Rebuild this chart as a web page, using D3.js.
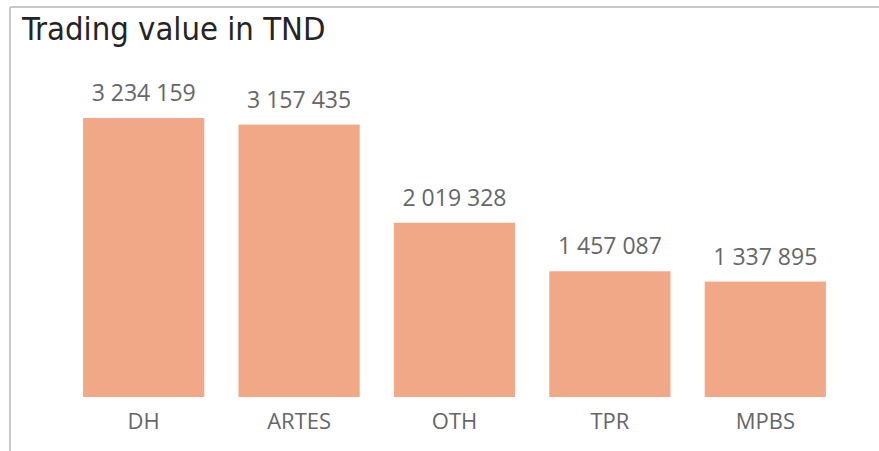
<!DOCTYPE html>
<html>
<head>
<meta charset="utf-8">
<script src="https://cdn.jsdelivr.net/npm/d3@7"></script>
<style>
  html, body { margin: 0; padding: 0; background: #fff; }
  svg { display: block; }
</style>
</head>
<body>
<svg id="chart" width="879" height="451"></svg>
<script>
const categories = ["DH", "ARTES", "OTH", "TPR", "MPBS"];
const values = [3234159, 3157435, 2019328, 1457087, 1337895];
const title = "Trading value in TND";

const W = 879, H = 451;
const svg = d3.select("#chart");

// frame
svg.append("line").attr("x1", 10).attr("x2", W).attr("y1", 7).attr("y2", 7)
  .attr("stroke", "#c8c8c8").attr("stroke-width", 2);
svg.append("line").attr("x1", 10).attr("x2", 10).attr("y1", 7).attr("y2", H)
  .attr("stroke", "#c8c8c8").attr("stroke-width", 2);

svg.append("text").attr("x", 22).attr("y", 40)
  .attr("font-family", "'DejaVu Sans Condensed', 'DejaVu Sans', sans-serif")
  .attr("font-size", 32.5).attr("fill", "#252423").text(title);

const x = d3.scaleBand().domain(categories).range([66, 843])
  .paddingInner(0.22).paddingOuter(0.11);
const y = d3.scaleLinear().domain([0, 3234159]).range([397, 118]);

const data = categories.map((c, i) => ({ c, v: values[i] }));

svg.append("g").selectAll("rect").data(data).join("rect")
  .attr("x", d => x(d.c)).attr("width", x.bandwidth())
  .attr("y", d => y(d.v)).attr("height", d => y(0) - y(d.v))
  .attr("fill", "#F0A886");

const fmt = v => d3.format(",")(v).replace(/,/g, " ");

svg.append("g").selectAll("text").data(data).join("text")
  .attr("x", d => x(d.c) + x.bandwidth() / 2)
  .attr("y", d => y(d.v) - 17)
  .attr("text-anchor", "middle")
  .attr("font-family", "'Open Sans', sans-serif")
  .attr("font-size", 23).attr("fill", "#666666")
  .text(d => fmt(d.v));

const xAxis = d3.axisBottom(x).tickSize(0).tickPadding(16);
const ax = svg.append("g").attr("transform", "translate(0,397)").call(xAxis);
ax.select(".domain").remove();
ax.selectAll("text")
  .attr("font-family", "'Open Sans', sans-serif")
  .attr("font-size", 22).attr("fill", "#666666");
</script>
</body>
</html>
